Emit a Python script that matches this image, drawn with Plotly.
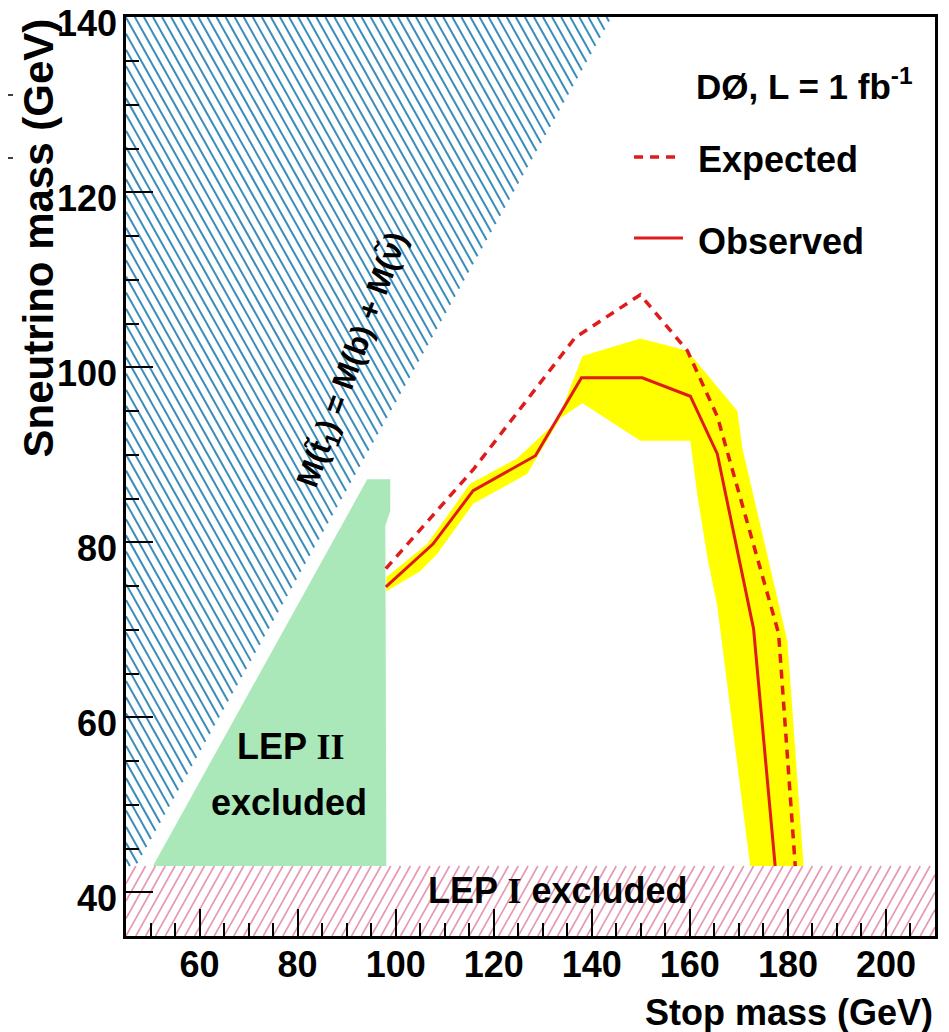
import math
import plotly.graph_objects as go

# ---------------- data ----------------
# Observed limit (solid red)
obs_stop = [98.0, 107.6, 115.8, 128.5, 137.9, 150.3, 160.1, 165.6, 173.0, 177.4]
obs_snu = [74.9, 79.8, 85.9, 89.9, 98.8, 98.8, 96.7, 90.1, 70.1, 43.0]

# Expected limit (dashed red)
exp_stop = [98.0, 115.8, 136.6, 149.9, 159.5, 165.6, 178.1, 181.5]
exp_snu = [77.0, 88.3, 103.4, 108.3, 101.9, 94.4, 69.6, 43.0]

# +-1 sigma band around the expected limit: outer edge (left->right), inner edge (right->left)
band_outer_stop = [98.1, 106.4, 115.2, 124.8, 133.0, 138.1, 149.9, 159.5, 169.7, 170.7, 179.9, 183.2]
band_outer_snu = [76.0, 79.8, 86.7, 89.6, 93.9, 101.3, 103.3, 101.9, 95.0, 90.8, 68.7, 43.0]
band_inner_stop = [172.3, 166.6, 165.6, 163.6, 161.5, 160.1, 149.9, 138.1, 133.6, 126.8, 115.8, 108.5, 105.0, 98.1]
band_inner_snu = [43.0, 68.7, 72.7, 78.2, 85.5, 91.6, 91.6, 95.9, 94.2, 87.8, 84.4, 78.7, 76.7, 74.4]

# LEP II excluded region
lep2_stop = [50.5, 94.2, 98.9, 98.9, 97.9, 98.1]
lep2_snu = [43.0, 87.2, 87.2, 83.6, 81.9, 43.0]

# LEP I sneutrino limit and kinematic boundary M(t) = M(b) + M(nu)
lep1_limit = 43.0
m_b = 4.0

x_range = [45, 210]
y_range = [35, 140.05]

# ---------------- styles ----------------
FONT = "Liberation Sans, Arial, Helvetica, sans-serif"
SERIF = "Liberation Serif, Times New Roman, serif"
RED = "#e01b1b"
YELLOW = "#ffff00"
GREEN = "rgb(170,232,186)"
BLUE = "#3a8dbb"
PINK = "#e796b3"


def hatch(poly, slope, step):
    xs, ys = [], []
    cs = [p[1] - slope * p[0] for p in poly]
    cmin, cmax = min(cs), max(cs)
    c = step * math.ceil(cmin / step)
    n = len(poly)
    while c <= cmax:
        pts = []
        for i in range(n):
            x1, y1 = poly[i]
            x2, y2 = poly[(i + 1) % n]
            f1 = y1 - slope * x1 - c
            f2 = y2 - slope * x2 - c
            if f1 == f2:
                continue
            if (f1 <= 0 <= f2) or (f2 <= 0 <= f1):
                t = f1 / (f1 - f2)
                pts.append((x1 + t * (x2 - x1), y1 + t * (y2 - y1)))
        if len(pts) >= 2:
            pts.sort()
            xs += [pts[0][0], pts[-1][0], None]
            ys += [pts[0][1], pts[-1][1], None]
        c += step
    return xs, ys


fig = go.Figure()

# kinematically forbidden region (blue hatch)
blue_poly = [(x_range[0], lep1_limit), (x_range[0], y_range[1]),
             (y_range[1] + m_b, y_range[1]), (lep1_limit + m_b, lep1_limit)]
bx, by = hatch(blue_poly, -1.0, 1.85)
fig.add_trace(go.Scatter(x=bx, y=by, mode="lines", line=dict(color=BLUE, width=2),
                         hoverinfo="skip", showlegend=False))

# LEP I excluded (pink hatch)
pink_poly = [(x_range[0], y_range[0]), (x_range[0], lep1_limit),
             (x_range[1], lep1_limit), (x_range[1], y_range[0])]
px_, py_ = hatch(pink_poly, 1.0, 2.0)
fig.add_trace(go.Scatter(x=px_, y=py_, mode="lines", line=dict(color=PINK, width=1.6),
                         hoverinfo="skip", showlegend=False))

# LEP II excluded (green)
fig.add_trace(go.Scatter(x=lep2_stop, y=lep2_snu, fill="toself", fillcolor=GREEN,
                         mode="lines", line=dict(width=0), hoverinfo="skip", showlegend=False))

# yellow band
fig.add_trace(go.Scatter(x=band_outer_stop + band_inner_stop, y=band_outer_snu + band_inner_snu,
                         fill="toself", fillcolor=YELLOW, mode="lines", line=dict(width=0),
                         hoverinfo="skip", showlegend=False))

# expected
fig.add_trace(go.Scatter(x=exp_stop, y=exp_snu, mode="lines",
                         line=dict(color=RED, width=3.5, dash="9px,7px"), showlegend=False))
# observed
fig.add_trace(go.Scatter(x=obs_stop, y=obs_snu, mode="lines",
                         line=dict(color=RED, width=3), showlegend=False))

# page has an 8px body margin: size the figure so that it fits the 949x1032 window
OFF = 8
W, H = 949 - OFF, 1032 - OFF
L, R, T, B = 118, 14, 9, 96
PW, PH = W - L - R, H - T - B


def pxx(px):
    return (px - OFF - L) / PW


def pxy(py):
    return (H - B - (py - OFF)) / PH


annotations = []


def ann(text, x, y, size=34, xanchor="left", yanchor="middle", xref="paper", yref="paper", **kw):
    annotations.append(dict(text=text, x=x, y=y, xref=xref, yref=yref, xanchor=xanchor,
                            yanchor=yanchor, showarrow=False,
                            font=dict(family=FONT, size=size, color="black", weight="bold"), **kw))


# legend
ann("DØ, L = 1 fb<sup>-1</sup>", pxx(694), pxy(84), size=35)
ann("Expected", pxx(696), pxy(159), size=36)
ann("Observed", pxx(696), pxy(241), size=36)

# region labels
ann("LEP <span style=\"font-family:" + SERIF + "\">II</span>", 78.5, 56.7, size=36,
    xanchor="center", xref="x", yref="y")
ann("excluded", 78.3, 50.3, size=36, xanchor="center", xref="x", yref="y")
ann("LEP <span style=\"font-family:" + SERIF + "\">I</span> excluded", 133.0, 40.2, size=36,
    xanchor="center", xref="x", yref="y")
ann("M(t\u0303<sub>1</sub>) = M(b) + M(\u03bd\u0303)", 91.6, 100.8, size=31,
    xanchor="center", xref="x", yref="y", textangle=-70)

# axis titles
ann("Stop mass (GeV)", 1.0, pxy(1012), size=36, xanchor="right", yanchor="middle")
ann("Sneutrino mass (GeV)", pxx(38), 1.0, size=42, xanchor="center", yanchor="top",
    textangle=-90)

shapes = [
    dict(type="line", xref="paper", yref="paper", x0=pxx(634), x1=pxx(681), y0=pxy(157), y1=pxy(157),
         line=dict(color=RED, width=3.5, dash="9px,7px")),
    dict(type="line", xref="paper", yref="paper", x0=pxx(634), x1=pxx(683), y0=pxy(238), y1=pxy(238),
         line=dict(color=RED, width=3)),
    dict(type="line", xref="paper", yref="paper", x0=pxx(8), x1=pxx(13), y0=pxy(95), y1=pxy(95),
         line=dict(color="black", width=1.5)),
    dict(type="line", xref="paper", yref="paper", x0=pxx(8), x1=pxx(13), y0=pxy(158), y1=pxy(158),
         line=dict(color="black", width=1.5)),
]

axis_common = dict(
    showgrid=False, zeroline=False, showline=True, linecolor="black", linewidth=2.5, mirror=True,
    ticks="inside", ticklen=27, tickwidth=2, tickcolor="black", tickmode="linear", tick0=0, dtick=20,
    tickfont=dict(family=FONT, size=36, color="black", weight="bold"),
    ticklabeloverflow="allow", automargin=False,
    minor=dict(ticks="inside", ticklen=13, tickwidth=2, tickcolor="black", dtick=5, tick0=0),
)

fig.update_layout(
    width=W, height=H,
    margin=dict(l=L, r=R, t=T, b=B, autoexpand=False),
    paper_bgcolor="white", plot_bgcolor="white",
    xaxis=dict(range=x_range, ticklabelstandoff=-5, **axis_common),
    yaxis=dict(range=y_range, ticklabelstandoff=-1, ticklabelshift=6, **axis_common),
    annotations=annotations,
    shapes=shapes,
    showlegend=False,
)

fig.write_html("out.html")
